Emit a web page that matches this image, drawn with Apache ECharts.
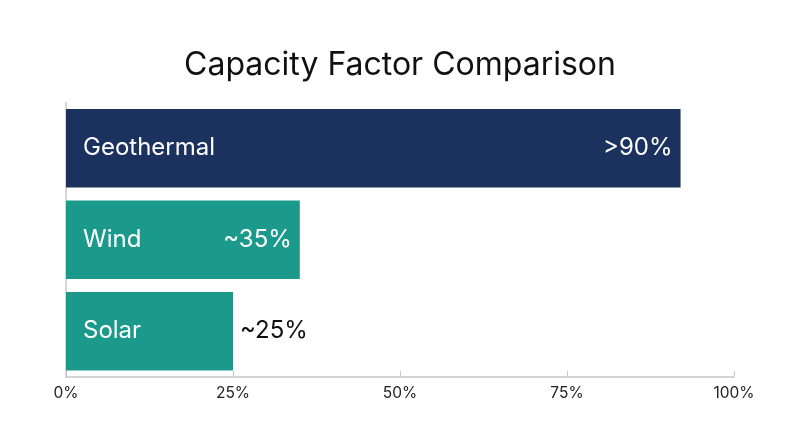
<!DOCTYPE html>
<html>
<head>
<meta charset="utf-8">
<script src="https://cdn.jsdelivr.net/npm/echarts@6/dist/echarts.min.js"></script>
<style>
  html, body { margin: 0; padding: 0; background: #fff; }
  #chart { width: 800px; height: 447px; }
</style>
</head>
<body>
<div id="chart"></div>
<script>
// data
var categories = ['Geothermal', 'Wind', 'Solar'];
var values = [92, 35, 25];
var valueLabels = ['>90%', '~35%', '~25%'];
var barColors = ['#1b325e', '#1b998b', '#1b998b'];
var xTicks = [0, 25, 50, 75, 100];

var FONT = 'Inter';
var chart = echarts.init(document.getElementById('chart'));

var barData = values.map(function (v, i) {
  var outside = i === 2; // Solar label sits past the bar end
  return {
    value: v,
    itemStyle: { color: barColors[i] },
    label: {
      show: true,
      position: outside ? 'right' : 'insideRight',
      distance: outside ? 7 : 8,
      color: outside ? '#111' : '#fff',
      formatter: valueLabels[i]
    }
  };
});

var option = {
  animation: false,
  title: {
    text: 'Capacity Factor Comparison',
    left: 'center',
    top: 44,
    textStyle: { fontFamily: FONT, fontSize: 32, fontWeight: 'normal', color: '#111' }
  },
  grid: { left: 66, right: 66, top: 102.5, bottom: 70 },
  xAxis: {
    type: 'value',
    min: xTicks[0],
    max: xTicks[xTicks.length - 1],
    interval: 25,
    axisLine: { show: true, lineStyle: { color: '#c8c8c8', width: 1.5 } },
    axisTick: { show: true, inside: true, length: 6, lineStyle: { color: '#c8c8c8' } },
    splitLine: { show: false },
    axisLabel: { formatter: '{value}%', fontFamily: FONT, fontSize: 15.5, color: '#222', margin: 8 }
  },
  yAxis: {
    type: 'category',
    inverse: true,
    data: categories,
    axisLine: { show: true, lineStyle: { color: '#c8c8c8', width: 1.5 } },
    axisTick: { show: false },
    axisLabel: { show: false }
  },
  series: [
    {
      type: 'bar',
      data: barData,
      barCategoryGap: '14%',
      label: { fontFamily: FONT, fontSize: 24 },
      z: 2
    },
    {
      // transparent twin to carry the category name inside each bar
      type: 'bar',
      data: values,
      barGap: '-100%',
      barCategoryGap: '14%',
      itemStyle: { color: 'rgba(0,0,0,0)' },
      label: {
        show: true,
        position: 'insideLeft',
        distance: 17,
        formatter: '{b}',
        color: '#fff',
        fontFamily: FONT,
        fontSize: 24
      },
      z: 3
    }
  ]
};

chart.setOption(option);
</script>
</body>
</html>
